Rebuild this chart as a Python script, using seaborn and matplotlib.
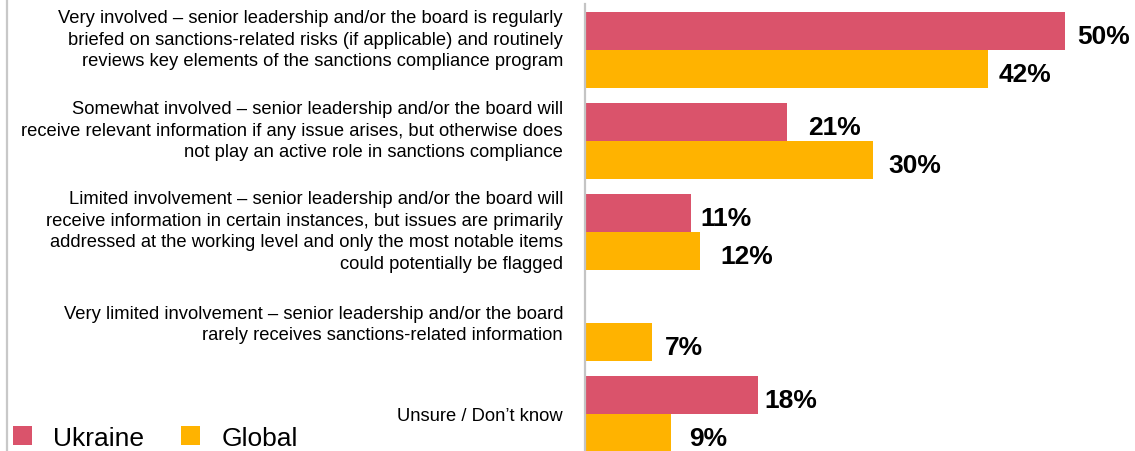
import matplotlib
matplotlib.use("Agg")
import matplotlib.pyplot as plt
import matplotlib.transforms as mtransforms
from matplotlib.lines import Line2D
from matplotlib.patches import Patch
import numpy as np
import pandas as pd
import seaborn as sns

# Survey answers (share of respondents, %)
categories = [
    "Very involved \u2013 senior leadership and/or the board is regularly\n"
    "briefed on sanctions-related risks (if applicable) and routinely\n"
    "reviews key elements of the sanctions compliance program",
    "Somewhat involved \u2013 senior leadership and/or the board will\n"
    "receive relevant information if any issue arises, but otherwise does\n"
    "not play an active role in sanctions compliance",
    "Limited involvement \u2013 senior leadership and/or the board will\n"
    "receive information in certain instances, but issues are primarily\n"
    "addressed at the working level and only the most notable items\n"
    "could potentially be flagged",
    "Very limited involvement \u2013 senior leadership and/or the board\n"
    "rarely receives sanctions-related information",
    "Unsure / Don\u2019t know",
]
series = ["Ukraine", "Global"]
ukraine = [50, 21, 11, np.nan, 18]
global_ = [42, 30, 12, 7, 9]

colors = {"Ukraine": "#DA536B", "Global": "#FFB300"}

W, H, DPI = 1135, 452, 100
sns.set_theme(style="white")
plt.rcParams["font.family"] = ["Liberation Sans", "DejaVu Sans"]

df = pd.DataFrame({
    "category": categories * 2,
    "series": ["Ukraine"] * len(categories) + ["Global"] * len(categories),
    "value": ukraine + global_,
})

fig = plt.figure(figsize=(W / DPI, H / DPI), dpi=DPI)
ax_left = 585 / W
ax_top = 5 / H
ax = fig.add_axes([ax_left, 0, 1 - ax_left, 1 - ax_top])

sns.barplot(data=df, y="category", x="value", hue="series", order=categories,
            hue_order=series, palette=colors, orient="h", width=0.835,
            saturation=1, errorbar=None, legend=False, linewidth=0, ax=ax)

px_per_unit = 9.6
ax.set_xlim(0, (W - 585) / px_per_unit)
ax.set_ylim(4.4066, -0.5055)
ax.set_xlabel("")
ax.set_ylabel("")
ax.set_xticks([])
ax.set_yticks([])
for s in ["top", "right", "bottom"]:
    ax.spines[s].set_visible(False)
ax.spines["left"].set_color("#c4c4c4")
ax.spines["left"].set_linewidth(1.6)

# value labels just past each bar end (gap in px, per category)
gaps = {"Ukraine": [12, 22, 10, 0, 7], "Global": [10, 15, 20, 13, 18]}
for cont, name in zip(ax.containers, series):
    for bar in cont.patches:
        w = bar.get_width()
        if not np.isfinite(w) or w <= 0:
            continue
        yc = bar.get_y() + bar.get_height() / 2
        idx = int(round(yc))
        off = mtransforms.ScaledTranslation(gaps[name][idx] / DPI, -5 / DPI, fig.dpi_scale_trans)
        ax.text(w, yc, f"{w:.0f}%", transform=ax.transData + off,
                ha="left", va="center", fontsize=19, fontweight="bold", color="black")

# category labels to the left of the axis
label_dy = [11, 11, 1, -1, -2]
trans = mtransforms.blended_transform_factory(ax.transAxes, ax.transData)
for i, (lab, dy) in enumerate(zip(categories, label_dy)):
    off = mtransforms.ScaledTranslation(-22 / DPI, dy / DPI, fig.dpi_scale_trans)
    ax.text(0, i, lab, transform=trans + off, ha="right", va="center",
            multialignment="right", fontsize=13.2, linespacing=1.34, color="black")

# legend in the lower-left corner
handles = [Patch(facecolor=colors[s], edgecolor="none", label=s) for s in series]
fig.legend(handles=handles, loc="lower left", bbox_to_anchor=(13 / W, 1 / H),
           ncol=2, frameon=False, fontsize=19, handlelength=0.72, handleheight=0.72,
           handletextpad=0.8, columnspacing=1.4, borderpad=0, borderaxespad=0,
           labelcolor="black")

# thin frame line on the left edge
fig.add_artist(Line2D([7 / W, 7 / W], [0, 1], transform=fig.transFigure,
                      color="#c8c8c8", linewidth=1.6))

fig.savefig("out.png", dpi=DPI)
